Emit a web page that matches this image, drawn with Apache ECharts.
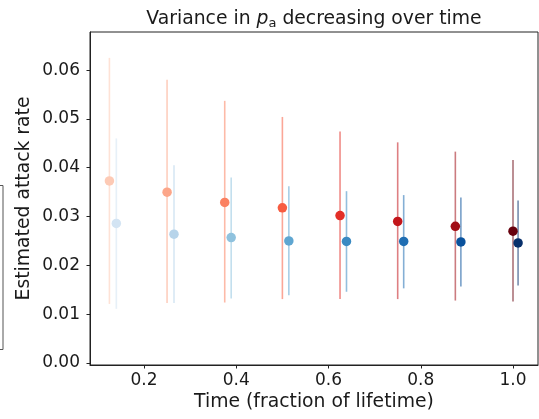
<!DOCTYPE html>
<html>
<head>
<meta charset="utf-8">
<script src="https://cdn.jsdelivr.net/npm/echarts@6/dist/echarts.min.js"></script>
<style>
  html, body { margin: 0; padding: 0; background: #fff; }
  #chart { width: 539px; height: 419px; }
</style>
</head>
<body>
<div id="chart"></div>
<script>
// estimates
const redX = [0.125, 0.25, 0.375, 0.5, 0.625, 0.75, 0.875, 1.0]
const redMean = [0.0373, 0.0350, 0.0329, 0.0318, 0.0302, 0.0290, 0.0280, 0.0270]
const redLow = [0.0121, 0.0123, 0.0124, 0.0131, 0.0131, 0.0131, 0.0128, 0.0126]
const redHigh = [0.0625, 0.0580, 0.0537, 0.0504, 0.0474, 0.0452, 0.0433, 0.0416]

const blueX = [0.140, 0.265, 0.389, 0.514, 0.639, 0.763, 0.887, 1.011]
const blueMean = [0.0286, 0.0264, 0.0257, 0.0250, 0.0249, 0.0249, 0.0248, 0.0246]
const blueLow = [0.0111, 0.0123, 0.0132, 0.0139, 0.0146, 0.0153, 0.0157, 0.0159]
const blueHigh = [0.0460, 0.0405, 0.0380, 0.0362, 0.0352, 0.0344, 0.0339, 0.0333]

const xTicks = [0.2, 0.4, 0.6, 0.8, 1.0]
const yTicks = [0, 0.01, 0.02, 0.03, 0.04, 0.05, 0.06]

// colormap samples (Reds / Blues)
const redColors = ['#fdcab5', '#fca689', '#fb8161', '#f75c41', '#e32f27', '#c3161b', '#a10e15', '#67000d']
const blueColors = ['#d3e4f3', '#b7d4ea', '#8fc2de', '#5fa6d1', '#3a8ac2', '#1f6eb3', '#09529d', '#08306b']

const font = 'DejaVu Sans'
const ink = '#1a1a1a'

function errorBars(name, xs, lows, highs, colors) {
  return {
    name,
    type: 'custom',
    data: xs.map((x, i) => [x, lows[i], highs[i]]),
    encode: { x: 0, y: [1, 2] },
    silent: true,
    z: 2,
    renderItem(params, api) {
      const lo = api.coord([api.value(0), api.value(1)])
      const hi = api.coord([api.value(0), api.value(2)])
      return {
        type: 'line',
        shape: { x1: lo[0], y1: lo[1], x2: hi[0], y2: hi[1] },
        style: { stroke: colors[params.dataIndex], lineWidth: 1.6, opacity: 0.55 },
      }
    },
  }
}

function points(name, xs, ys, colors) {
  return {
    name,
    type: 'scatter',
    symbolSize: 9.5,
    z: 3,
    data: xs.map((x, i) => ({ value: [x, ys[i]], itemStyle: { color: colors[i], opacity: 1 } })),
  }
}

const chart = echarts.init(document.getElementById('chart'), null, { renderer: 'canvas' })

chart.setOption({
  animation: false,
  backgroundColor: '#fff',
  textStyle: { fontFamily: font, color: ink },
  title: {
    text: 'Variance in {i|p}{s|a} decreasing over time',
    left: 309,
    top: 3,
    textAlign: 'center',
    textStyle: {
      fontFamily: font,
      fontSize: 18.8,
      fontWeight: 'normal',
      color: ink,
      lineHeight: 22,
      rich: {
        i: { fontFamily: font, fontSize: 18.8, fontStyle: 'italic', color: ink, lineHeight: 22 },
        s: { fontFamily: font, fontSize: 13, color: ink, lineHeight: 14, verticalAlign: 'bottom' },
      },
    },
  },
  grid: {
    left: 90, right: 1, top: 32, bottom: 54,
    show: true, borderColor: '#222', borderWidth: 1,
  },
  xAxis: {
    type: 'value',
    min: 0.0829,
    max: 1.0542,
    name: 'Time (fraction of lifetime)',
    nameLocation: 'middle',
    nameGap: 28,
    nameMoveOverlap: false,
    nameTextStyle: { fontFamily: font, fontSize: 18.8, color: ink },
    axisLine: { show: true, onZero: false, lineStyle: { color: '#222', width: 1 } },
    axisTick: { show: true, length: 3.5, customValues: xTicks, lineStyle: { color: '#222' } },
    axisLabel: {
      fontFamily: font, fontSize: 17, color: ink, margin: 7,
      customValues: xTicks,
      formatter: v => v.toFixed(1),
    },
    splitLine: { show: false },
  },
  yAxis: {
    type: 'value',
    min: -0.0004,
    max: 0.0678,
    name: 'Estimated attack rate',
    nameLocation: 'middle',
    nameRotate: 90,
    nameGap: 56,
    nameMoveOverlap: false,
    nameTextStyle: { fontFamily: font, fontSize: 18.8, color: ink },
    axisLine: { show: true, onZero: false, lineStyle: { color: '#222', width: 1 } },
    axisTick: { show: true, length: 3.5, customValues: yTicks, lineStyle: { color: '#222' } },
    axisLabel: {
      fontFamily: font, fontSize: 17, color: ink, margin: 10,
      customValues: yTicks,
      formatter: v => v.toFixed(2),
    },
    splitLine: { show: false },
  },
  graphic: [
    {
      // edge of a frame cut off at the left border
      type: 'rect',
      shape: { x: -60, y: 185.5, width: 63, height: 164 },
      style: { fill: 'none', stroke: '#555', lineWidth: 1 },
      silent: true,
    },
  ],
  series: [
    errorBars('red-err', redX, redLow, redHigh, redColors),
    points('red', redX, redMean, redColors),
    errorBars('blue-err', blueX, blueLow, blueHigh, blueColors),
    points('blue', blueX, blueMean, blueColors),
  ],
})
</script>
</body>
</html>
